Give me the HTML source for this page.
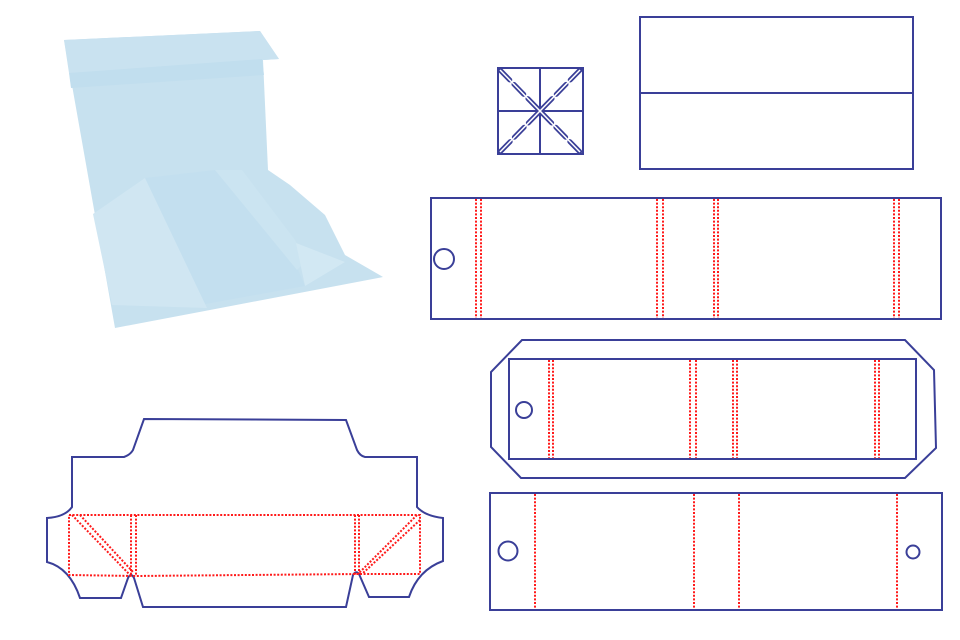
<!DOCTYPE html>
<html><head><meta charset="utf-8"><style>html,body{margin:0;padding:0;background:#fff}svg{display:block}</style></head>
<body>
<svg width="960" height="640" viewBox="0 0 960 640" xmlns="http://www.w3.org/2000/svg">
<!-- box photo -->
<g stroke="none">
<polygon points="64,40 260,31 279,59 263,60 268,170 290,185 325,215 345,255 383,277 210,310 115,328" fill="#c7e1ef"/>
<polygon points="64,40 260,31 279,59 69,73" fill="#c9e2f0"/>
<polygon points="69,73 262,59 264,75 71,88" fill="#c1deee"/>
<polygon points="145,178 215,170 296,265 305,286 200,305" fill="#c3dfef"/>
<polygon points="93,214 145,178 207,308 112,305" fill="#d0e6f2"/>
<polygon points="215,170 242,170 295,240 305,262 297,270" fill="#cbe4f1"/>
<polygon points="296,243 345,262 305,286" fill="#d2e8f3"/>
</g>
<g fill="none" stroke="#3a3f98" stroke-width="2">
<!-- small square -->
<rect x="498" y="68" width="85" height="86"/>
<line x1="540" y1="68" x2="540" y2="154"/>
<line x1="498" y1="111" x2="583" y2="111"/>
<g stroke-width="5" stroke-linecap="round"><line x1="500" y1="70" x2="580" y2="152" stroke-dasharray="14 6"/><line x1="580" y1="70" x2="500" y2="152" stroke-dasharray="14 6"/></g>
<g stroke="#fff" stroke-width="1.5"><line x1="500" y1="70" x2="580" y2="152"/><line x1="580" y1="70" x2="500" y2="152"/></g>
<!-- top right -->
<rect x="640" y="17" width="273" height="152"/>
<line x1="640" y1="93" x2="913" y2="93"/>
<!-- band -->
<rect x="431" y="198" width="510" height="121"/>
<circle cx="444" cy="259" r="10"/>
<!-- octagon -->
<polygon points="522,340 905,340 934,370 936,448 905,478 521,478 491,447 491,372"/>
<rect x="509" y="359" width="407" height="100"/>
<circle cx="524" cy="410" r="8"/>
<!-- bottom band -->
<rect x="490" y="493" width="452" height="117"/>
<circle cx="508" cy="551" r="9.5"/>
<circle cx="913" cy="552" r="6.5"/>
<!-- dieline -->
<path d="M144,419 L346,420 L357,450 Q360,456 365,457 L417,457 L417,507 Q425,516 443,518 L443,561 Q418,570 409,597 L369,597 L359,574 Q356,570 353,575 L346,607 L143,607 L134,578 Q131,572 128,578 L121,598 L80,598 Q70,568 47,562 L47,518 Q65,517 72,507 L72,457 L124,457 Q130,455 133,450 Z"/>
</g>
<g fill="none" stroke="#ff1a1a" stroke-width="2" stroke-dasharray="2 1.6">
<line x1="476" y1="199" x2="476" y2="318"/><line x1="481" y1="199" x2="481" y2="318"/>
<line x1="657" y1="199" x2="657" y2="318"/><line x1="663" y1="199" x2="663" y2="318"/>
<line x1="714" y1="199" x2="714" y2="318"/><line x1="718" y1="199" x2="718" y2="318"/>
<line x1="894" y1="199" x2="894" y2="318"/><line x1="899" y1="199" x2="899" y2="318"/>
<line x1="549" y1="360" x2="549" y2="458"/><line x1="553" y1="360" x2="553" y2="458"/>
<line x1="690" y1="360" x2="690" y2="458"/><line x1="696" y1="360" x2="696" y2="458"/>
<line x1="733" y1="360" x2="733" y2="458"/><line x1="737" y1="360" x2="737" y2="458"/>
<line x1="875" y1="360" x2="875" y2="458"/><line x1="879" y1="360" x2="879" y2="458"/>
<line x1="535" y1="494" x2="535" y2="609"/><line x1="694" y1="494" x2="694" y2="609"/>
<line x1="739" y1="494" x2="739" y2="609"/><line x1="897" y1="494" x2="897" y2="609"/>
<!-- dieline folds -->
<polyline points="69,515 420,515 420,574 359,574 136,576 69,575 69,515"/>
<line x1="131" y1="515" x2="131" y2="575"/><line x1="136" y1="515" x2="136" y2="576"/>
<line x1="355" y1="515" x2="355" y2="575"/><line x1="359" y1="515" x2="359" y2="574"/>
<line x1="72" y1="515" x2="130" y2="575"/><line x1="80" y1="515" x2="133" y2="572"/>
<line x1="417" y1="515" x2="358" y2="574"/><line x1="420" y1="520" x2="362" y2="574"/>
</g>
</svg>
</body></html>
